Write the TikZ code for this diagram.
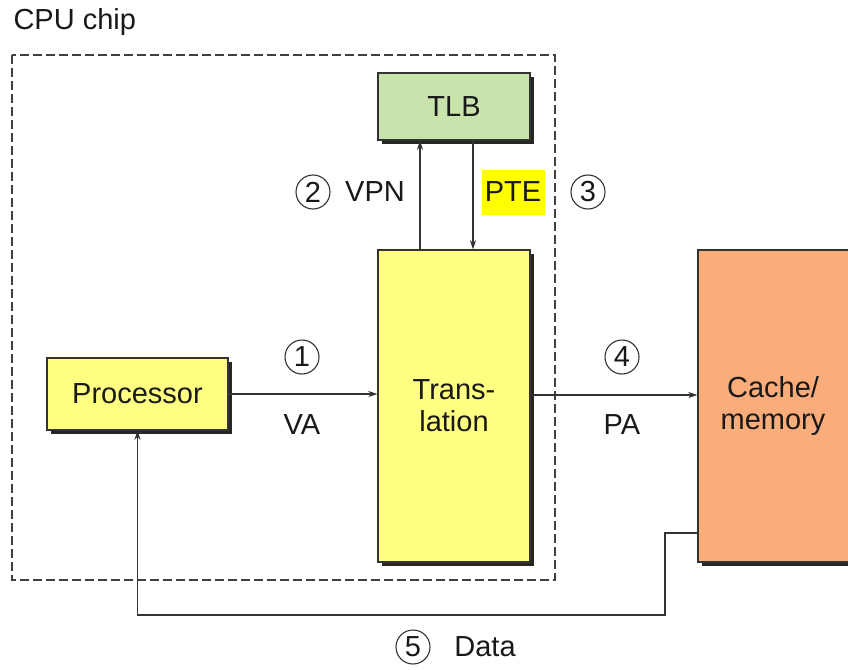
\documentclass[tikz,border=0pt]{standalone}
\usepackage{fontspec}
\setmainfont{Liberation Sans}
\usetikzlibrary{arrows.meta,shadows}
\definecolor{tlbgreen}{RGB}{200,228,172}
\definecolor{boxyellow}{RGB}{255,255,130}
\definecolor{memorange}{RGB}{250,172,122}
\definecolor{hiyellow}{RGB}{255,255,0}
\tikzset{
  x=1pt,y=-1pt,
  every node/.style={font=\fontsize{29}{32}\selectfont, text=black!90},
  unit/.style={draw=black!80, line width=1.4pt, inner sep=0pt,
    drop shadow={shadow xshift=3.5pt, shadow yshift=-3.5pt, opacity=1, fill=black!85}},
  num/.style={circle, draw=black!80, line width=1.1pt, minimum size=34pt, inner sep=0pt},
  arr/.style={line width=1.3pt, draw=black!80, -{Stealth[length=9pt,width=6pt]}},
  chip/.style={draw=black!75, line width=1.5pt, dash pattern=on 9pt off 4pt},
}
\begin{document}
\begin{tikzpicture}
\useasboundingbox (0,0) rectangle (848,669);
\clip (0,0) rectangle (848,669);
\fill[white] (0,0) rectangle (848,669);
\node[anchor=west] (cpulabel) at (10,22) {CPU chip};
\draw[chip] (12,55) rectangle (555,580);
\node[unit, fill=tlbgreen, minimum width=152pt, minimum height=67pt] (tlb) at (454,106.5) {TLB};
\node[unit, fill=boxyellow, minimum width=152pt, minimum height=312pt, align=center] (trans) at (454,406) {Trans-\\lation};
\node[unit, fill=boxyellow, minimum width=181pt, minimum height=72pt] (proc) at (137.5,394) {Processor};
\node[unit, fill=memorange, minimum width=180pt, minimum height=312pt, align=center, text width=150pt] (mem) at (788,406) {\hspace*{-30pt}Cache/\\\hspace*{-30pt}memory};
% VPN / PTE
\draw[arr] (trans.north -| 420,0) -- (tlb.south -| 420,0);
\draw[arr] (tlb.south -| 473,0) -- (trans.north -| 473,0);
\node[num] (n2) at (313,192) {2};
\node (vpn) at (375,192) {VPN};
\node[fill=hiyellow, inner sep=0pt, minimum width=63pt, minimum height=45pt] (pte) at (513,192) {PTE};
\node[num] (n3) at (588,192) {3};
% VA
\draw[arr] (proc.east) -- (proc.east -| trans.west);
\node[num] (n1) at (302,357) {1};
\node (va) at (302,425) {VA};
% PA
\draw[arr] (trans.east |- 0,395) -- (mem.west |- 0,395);
\node[num] (n4) at (622,357) {4};
\node (pa) at (622,425) {PA};
% Data
\coordinate (dstart) at (698,533);
\coordinate (dbend) at (665,615);
\draw[arr] (dstart) -| (dbend) -| (proc.south);
\node[num] (n5) at (413,647) {5};
\node (data) at (485,647) {Data};
\end{tikzpicture}
\end{document}
